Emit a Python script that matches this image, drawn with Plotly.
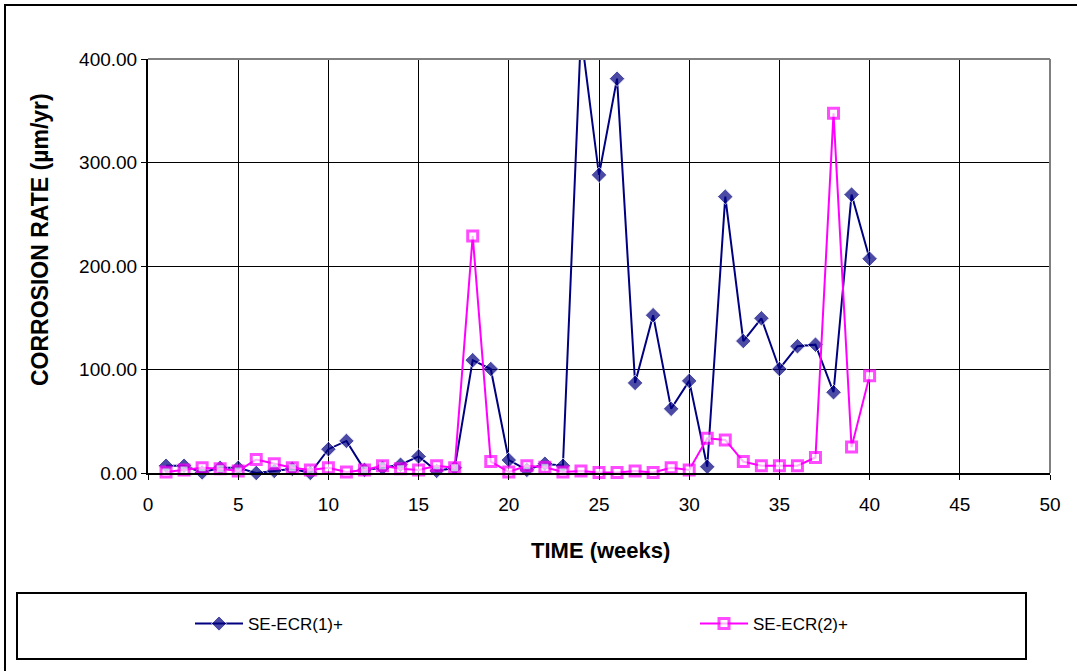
import plotly.graph_objects as go

weeks = list(range(1, 41))
ecr1 = [7, 7, 0.5, 5, 5, 0, 2, 4, 0, 23,
        31, 3, 5, 8, 16, 2, 5, 109, 100.5, 12.5,
        3, 9, 7, 425, 288, 381, 87, 152.5, 62, 89,
        6, 267, 127.5, 149.5, 100.5, 122.5, 124, 78, 269, 207]
ecr2 = [1, 3, 5, 4, 2, 13, 9, 5, 3, 5,
        1, 3, 7, 4, 3, 7, 5, 229, 11, 1,
        7, 5.5, 1, 2, 0.5, 0.5, 2, 0.5, 5, 3,
        33.5, 32, 11, 7, 7, 7, 15, 347.5, 25, 94]
names = ["SE-ECR(1)+", "SE-ECR(2)+"]
x_ticks = list(range(0, 51, 5))
y_ticks = [0, 100, 200, 300, 400]

W, H = 1077, 671
L, R, T, B = 148, 1050, 59, 473
pw, ph = R - L, B - T
def px(x):
    return (x - L) / pw
def py(y):
    return (B - y) / ph

YMAX = 400
FONT = "Liberation Sans, Arial, sans-serif"

fig = go.Figure()
fig.add_trace(go.Scatter(
    x=weeks, y=ecr1, name=names[0], mode="lines+markers",
    line=dict(color="#000080", width=2),
    marker=dict(symbol="diamond", color="#000080",
                size=[0 if v > YMAX else 12 for v in ecr1]),
    cliponaxis=False, legend="legend"))
fig.add_trace(go.Scatter(
    x=weeks, y=ecr2, name=names[1], mode="lines+markers",
    line=dict(color="#ff00ff", width=2),
    marker=dict(symbol="square", color="white",
                line=dict(color="#ff00ff", width=3),
                size=[0 if v > YMAX else 10 for v in ecr2]),
    cliponaxis=False, legend="legend2"))

leg_common = dict(orientation="h", xanchor="left", yanchor="middle",
                  y=py(624), font=dict(size=17, family=FONT, color="black"),
                  itemwidth=48,
                  bgcolor="rgba(0,0,0,0)", borderwidth=0)

fig.update_layout(
    width=W, height=H,
    margin=dict(l=L, r=W - R, t=T, b=H - B),
    paper_bgcolor="white", plot_bgcolor="white",
    font=dict(family=FONT, color="black", size=19),
    showlegend=True,
    legend=dict(x=px(190), **leg_common),
    legend2=dict(x=px(695), **leg_common),
    xaxis=dict(range=[0, 50], tickvals=x_ticks, ticktext=[str(v) for v in x_ticks],
               showgrid=True, gridcolor="black", gridwidth=1,
               showline=True, linecolor="black", linewidth=2,
               ticks="outside", ticklen=5, tickcolor="black", tickwidth=1,
               ticklabelstandoff=8,
               tickfont=dict(size=19), zeroline=False),
    yaxis=dict(range=[0, YMAX], tickvals=y_ticks, ticktext=[f"{v:.2f}" for v in y_ticks],
               showgrid=True, gridcolor="black", gridwidth=1,
               showline=True, linecolor="black", linewidth=2,
               ticks="outside", ticklen=5, tickcolor="black", tickwidth=1,
               tickfont=dict(size=19), zeroline=False),
    annotations=[
        dict(text="<b>TIME (weeks)</b>", xref="paper", yref="paper",
             x=px(600), y=py(550), showarrow=False, font=dict(size=22),
             xanchor="center", yanchor="middle"),
        dict(text="<b>CORROSION RATE (µm/yr)</b>", xref="paper", yref="paper",
             x=px(40), y=py(240), showarrow=False, font=dict(size=23),
             textangle=-90, xanchor="center", yanchor="middle"),
    ],
    shapes=[
        dict(type="line", xref="paper", yref="paper", x0=0, x1=1, y0=1, y1=1,
             line=dict(color="#808080", width=2)),
        dict(type="line", xref="paper", yref="paper", x0=1, x1=1, y0=0, y1=1,
             line=dict(color="#808080", width=2)),
        dict(type="rect", xref="paper", yref="paper",
             x0=px(17), x1=px(1026), y0=py(659), y1=py(593),
             line=dict(color="black", width=2)),
        dict(type="rect", xref="paper", yref="paper",
             x0=px(5), x1=px(1085), y0=py(680), y1=py(5),
             line=dict(color="black", width=2)),
    ],
)

fig.write_html("out.html")
